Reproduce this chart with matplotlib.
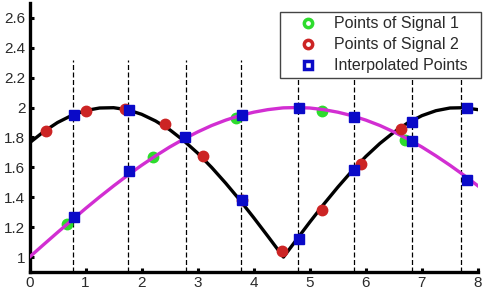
import matplotlib
matplotlib.use("Agg")
import matplotlib.pyplot as plt
from matplotlib.lines import Line2D
from matplotlib.patches import Rectangle

plt.rcParams["font.family"] = ["Liberation Sans", "DejaVu Sans"]

# curve samples
curve_x = [0, 0.25, 0.5, 0.75, 1.0, 1.25, 1.5, 1.75, 2.0, 2.25, 2.5, 2.75,
           3.0, 3.25, 3.5, 3.75, 4.0, 4.25, 4.5, 4.53, 4.75, 5.0, 5.25, 5.5,
           5.75, 6.0, 6.25, 6.5, 6.75, 7.0, 7.25, 7.5, 7.75, 8.0]
signal2_curve = [1.764, 1.838, 1.900, 1.947, 1.980, 1.997, 1.999, 1.985,
                 1.955, 1.910, 1.852, 1.779, 1.695, 1.599, 1.494, 1.382,
                 1.263, 1.140, 1.015, 1.000, 1.110, 1.234, 1.354, 1.468,
                 1.575, 1.673, 1.760, 1.835, 1.898, 1.946, 1.979, 1.997,
                 1.999, 1.986]
signal1_curve = [1.000, 1.083, 1.165, 1.245, 1.325, 1.402, 1.476, 1.547,
                 1.614, 1.677, 1.736, 1.789, 1.837, 1.880, 1.916, 1.946,
                 1.969, 1.986, 1.997, 1.998, 2.000, 1.997, 1.986, 1.969,
                 1.946, 1.916, 1.880, 1.837, 1.789, 1.736, 1.677, 1.614,
                 1.547, 1.476]

# sample points
sig1_x = [0.66, 2.21, 3.69, 5.22, 6.69]
sig1_y = [1.224, 1.669, 1.93, 1.98, 1.785]
sig2_x = [0.29, 1.01, 1.71, 2.41, 3.09, 3.79, 4.50, 5.22, 5.91, 6.62]
sig2_y = [1.842, 1.975, 1.99, 1.887, 1.673, 1.38, 1.04, 1.313, 1.62, 1.858]

# interpolation grid (dashed lines) and interpolated points
grid_x = [0.77, 1.76, 2.79, 3.77, 4.79, 5.78, 6.82, 7.70]
interp_x = [0.79, 0.79, 1.78, 1.78, 2.77, 3.79, 3.79, 4.80, 4.80,
            5.79, 5.79, 6.82, 6.82, 7.81, 7.81]
interp_y = [1.953, 1.269, 1.985, 1.575, 1.80, 1.953, 1.38, 1.998, 1.12,
            1.94, 1.58, 1.902, 1.775, 2.0, 1.518]

green = "#2ddc2d"
red = "#cc2424"
blue = "#0a0ac8"
magenta = "#d22ed2"

W, H = 488, 290
fig = plt.figure(figsize=(W / 100, H / 100), dpi=100)
ax = fig.add_axes([0.0605, 0.062, 0.919, 0.928])

ax.vlines(grid_x, 0.9, 2.32, colors="black", linestyles=(0, (4, 2)),
          linewidth=0.9, zorder=1)
ax.plot(sig1_x, sig1_y, "o", color=green, ms=7.5, zorder=2)
ax.plot(curve_x, signal2_curve, "-", color="black", lw=2.4, zorder=3)
ax.plot(curve_x, signal1_curve, "-", color=magenta, lw=2.4, zorder=3)
ax.plot(sig2_x, sig2_y, "o", color=red, ms=7.5, zorder=4)
ax.plot(interp_x, interp_y, "s", color=blue, ms=7.5, zorder=5)

ax.set_xlim(0, 8)
ax.set_ylim(0.9, 2.7)
ax.set_xticks(range(0, 9))
ax.set_yticks([1, 1.2, 1.4, 1.6, 1.8, 2, 2.2, 2.4, 2.6])
ax.set_yticklabels(["1", "1.2", "1.4", "1.6", "1.8", "2", "2.2", "2.4", "2.6"])
for s in ["top", "right"]:
    ax.spines[s].set_visible(False)
for s in ["left", "bottom"]:
    ax.spines[s].set_linewidth(2.4)
ax.tick_params(direction="in", length=3, width=2.2, labelsize=11,
               labelcolor="#2a2a2a", pad=3)

# legend frame (wider horizontal padding than matplotlib's symmetric one)
fx0, fy0, fx1, fy1 = 280, 12, 481, 78
fig.add_artist(Rectangle((fx0 / W, 1 - fy1 / H), (fx1 - fx0) / W,
                         (fy1 - fy0) / H, transform=fig.transFigure,
                         facecolor="white", edgecolor="#444444", lw=1.0,
                         zorder=6))

handles = [
    Line2D([], [], ls="none", marker="o", mec=green, mfc="white", mew=2.5, ms=6),
    Line2D([], [], ls="none", marker="o", mec=red, mfc="white", mew=2.5, ms=6),
    Line2D([], [], ls="none", marker="s", mec=blue, mfc="white", mew=2.5, ms=6),
]
leg = fig.legend(handles, ["Points of Signal 1", "Points of Signal 2",
                           "Interpolated Points"],
                 loc="upper left", bbox_to_anchor=(fx0 / W, 1 - (fy0 + 1) / H),
                 borderaxespad=0, frameon=False,
                 fontsize=11.5, handlelength=3.1, handletextpad=0.05,
                 labelspacing=0.38, borderpad=0.2)
leg.set_zorder(7)
for t in leg.get_texts():
    t.set_color("#2a2a2a")

fig.savefig("out.png", dpi=100)
